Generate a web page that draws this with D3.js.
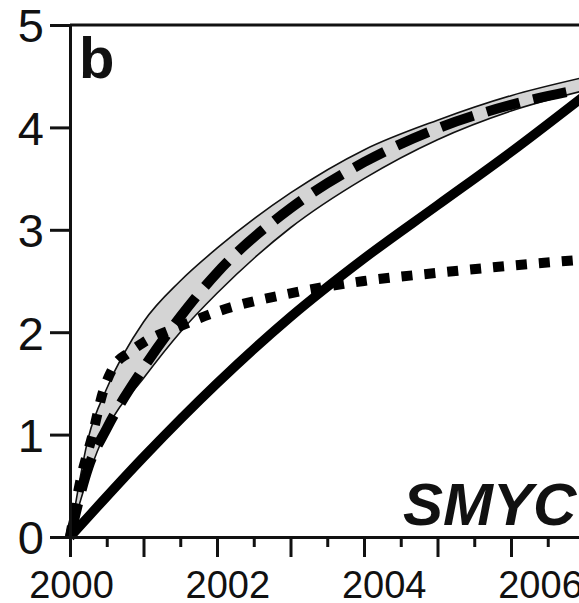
<!DOCTYPE html>
<html>
<head>
<meta charset="utf-8">
<script src="https://cdn.jsdelivr.net/npm/d3@7"></script>
<style>
  html, body { margin: 0; padding: 0; background: #fff; }
  svg { display: block; font-family: "Liberation Sans", Arial, sans-serif; }
</style>
</head>
<body>
<div id="chart"></div>
<script>
// years sampled for the band and the dashed curve
const bandYears = [2000, 2000.25, 2000.5, 2001, 2001.5, 2002, 2003, 2004, 2005, 2006, 2007];
const bandUpper = [0, 0.97, 1.45, 2.1, 2.5, 2.82, 3.36, 3.78, 4.07, 4.31, 4.49];
const bandLower = [0, 0.6, 1.05, 1.55, 2.0, 2.38, 3.02, 3.5, 3.88, 4.16, 4.36];
const dashedValues = [0, 0.68, 1.06, 1.65, 2.15, 2.58, 3.21, 3.66, 3.99, 4.22, 4.38];

// solid curve
const solidYears = [2000, 2001, 2002, 2003, 2004, 2005, 2006, 2007];
const solidValues = [0, 0.78, 1.5, 2.15, 2.72, 3.24, 3.76, 4.31];

// dotted curve
const dottedYears = [2000, 2000.15, 2000.3, 2000.45, 2000.6, 2000.8, 2001, 2001.5, 2002, 2003, 2004, 2005, 2006, 2007];
const dottedValues = [0, 0.58, 0.98, 1.42, 1.67, 1.80, 1.90, 2.06, 2.20, 2.38, 2.50, 2.58, 2.65, 2.71];

// ticks
const yTicks = [0, 1, 2, 3, 4, 5];
const xMajor = [2000, 2001, 2002, 2003, 2004, 2005, 2006, 2007];
const xMinor = [2000.5, 2001.5, 2002.5, 2003.5, 2004.5, 2005.5, 2006.5];
const xLabels = [2000, 2002, 2004, 2006];
const panelLabel = "b";
const siteLabel = "SMYC";

const width = 579, height = 603;
const svg = d3.select("#chart").append("svg")
  .attr("width", width)
  .attr("height", height);

//scales
const x = d3.scaleLinear().domain([2000, 2007]).range([70, 70 + 7 * 73.5]);
const y = d3.scaleLinear().domain([0, 5]).range([537, 25]);
// the printed year labels drift a bit to the right of their ticks
const xLab = d3.scaleLinear().domain([2000, 2006]).range([71, 540]);

const axisW = 3;

//band
const band = d3.area()
  .x((d, i) => x(bandYears[i]))
  .y0((d, i) => y(bandLower[i]))
  .y1((d, i) => y(bandUpper[i]))
  .curve(d3.curveMonotoneX);

svg.append("path")
  .datum(bandYears)
  .attr("d", band)
  .attr("fill", "#d4d4d4");

const edge = vals => d3.line()
  .x((d, i) => x(bandYears[i]))
  .y((d, i) => y(vals[i]))
  .curve(d3.curveMonotoneX)(bandYears);

[bandUpper, bandLower].forEach(vals => {
  svg.append("path")
    .attr("d", edge(vals))
    .attr("fill", "none")
    .attr("stroke", "#111")
    .attr("stroke-width", 1.6);
});

//curves
const line = (xs, vs) => d3.line()
  .x((d, i) => x(xs[i]))
  .y((d, i) => y(vs[i]))
  .curve(d3.curveMonotoneX)(xs);

svg.append("path")
  .attr("d", line(solidYears, solidValues))
  .attr("fill", "none")
  .attr("stroke", "#000")
  .attr("stroke-width", 9.5);

svg.append("path")
  .attr("d", line(bandYears, dashedValues))
  .attr("fill", "none")
  .attr("stroke", "#000")
  .attr("stroke-width", 10)
  .attr("stroke-dasharray", "34,14");

svg.append("path")
  .attr("d", line(dottedYears, dottedValues))
  .attr("fill", "none")
  .attr("stroke", "#000")
  .attr("stroke-width", 10)
  .attr("stroke-dasharray", "11,12");

//axes
const yAxis = d3.axisLeft(y).tickValues(yTicks).tickSize(20).tickSizeOuter(0)
  .tickFormat(d3.format("d"));
const yg = svg.append("g")
  .attr("transform", `translate(${x(2000)},0)`)
  .call(yAxis);
yg.selectAll("path, line").attr("stroke", "#111").attr("stroke-width", axisW);
yg.selectAll("text")
  .attr("font-size", 47)
  .attr("fill", "#111")
  .attr("x", -26)
  .attr("dy", "0.36em");

const xAxis = d3.axisBottom(x).tickValues(xMajor).tickSize(20).tickSizeOuter(0)
  .tickFormat(d => xLabels.includes(d) ? d : "");
const xg = svg.append("g")
  .attr("transform", `translate(0,${y(0)})`)
  .call(xAxis);
xg.selectAll("path, line").attr("stroke", "#111").attr("stroke-width", axisW);
xg.selectAll("text")
  .attr("font-size", 38)
  .attr("fill", "#111")
  .attr("y", 61)
  .attr("dy", 0)
  .attr("dx", d => xLab(d) - x(d));

const xMinorAxis = d3.axisBottom(x).tickValues(xMinor).tickSize(10).tickSizeOuter(0).tickFormat("");
const xmg = svg.append("g")
  .attr("transform", `translate(0,${y(0)})`)
  .call(xMinorAxis);
xmg.select("path").remove();
xmg.selectAll("line").attr("stroke", "#111").attr("stroke-width", axisW);

// top frame line
svg.append("line")
  .attr("x1", x(2000)).attr("x2", width)
  .attr("y1", y(5)).attr("y2", y(5))
  .attr("stroke", "#111")
  .attr("stroke-width", axisW);

//labels
svg.append("text")
  .attr("x", 79)
  .attr("y", 78)
  .attr("font-size", 58)
  .attr("font-weight", "bold")
  .attr("fill", "#111")
  .text(panelLabel);

svg.append("text")
  .attr("x", 403)
  .attr("y", 525)
  .attr("font-size", 60)
  .attr("font-weight", "bold")
  .attr("font-style", "italic")
  .attr("fill", "#111")
  .text(siteLabel);
</script>
</body>
</html>
